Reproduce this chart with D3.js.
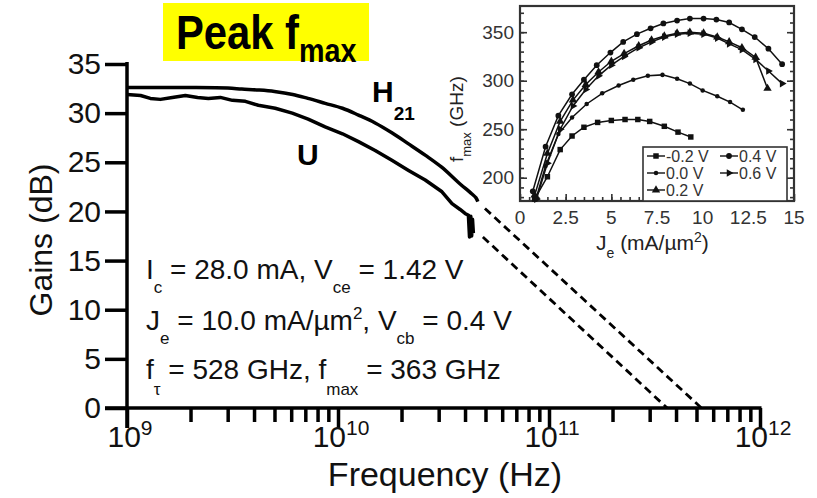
<!DOCTYPE html>
<html>
<head>
<meta charset="utf-8">
<script src="https://cdn.jsdelivr.net/npm/d3@7"></script>
<style>
  html, body { margin: 0; padding: 0; background: #fff; }
  svg { display: block; font-family: "Liberation Sans", Arial, Helvetica, sans-serif; }
</style>
</head>
<body>
<svg id="chart" width="817" height="498"></svg>
<script>
// ---- Main plot: gains vs frequency ----
const freqH21 = [1e9, 1.5e9, 2e9, 3e9, 3.5e9, 4.2e9, 5.0e9, 6.1e9, 7.2e9, 8.7e9, 1.05e10, 1.25e10,
                 1.5e10, 1.8e10, 2.15e10, 2.6e10, 3.1e10, 3.7e10, 4.3e10, 4.5e10, 4.6e10];
const gainH21 = [32.6, 32.6, 32.6, 32.55, 32.45, 32.35, 32.2, 31.9, 31.5, 31.0, 30.5, 29.8,
                 29.0, 28.0, 26.9, 25.7, 24.5, 23.0, 21.8, 21.4, 21.0];

const freqU = [1e9, 1.16e9, 1.29e9, 1.44e9, 1.64e9, 1.89e9, 2.16e9, 2.43e9, 2.77e9, 3.16e9, 3.64e9,
               4.19e9, 5.04e9, 6.07e9, 7.22e9, 8.69e9, 1.05e10, 1.25e10, 1.5e10, 1.8e10, 2.15e10,
               2.59e10, 3.11e10, 3.47e10, 3.79e10, 4.0e10, 4.15e10, 4.2e10, 4.26e10, 4.3e10, 4.34e10, 4.38e10];
const gainU = [31.9, 31.8, 31.5, 31.4, 31.6, 31.8, 31.6, 31.5, 31.6, 31.3, 31.2,
               30.8, 30.5, 30.0, 29.4, 28.6, 27.9, 27.1, 26.2, 25.2, 24.2,
               23.2, 22.0, 20.8, 20.2, 19.8, 19.6, 17.4, 19.5, 17.5, 19.2, 17.8];

// -20 dB/decade extrapolations down to f_T and f_max
const fT = 528e9;
const fMax = 363e9;
const h21Extrap = [[4.97e10, 20.3], [fT, 0]];
const uExtrap = [[4.86e10, 17.4], [fMax, 0]];

const gainTicks = [0, 5, 10, 15, 20, 25, 30, 35];
const freqDecades = [1e9, 1e10, 1e11, 1e12];
const freqExponents = ["9", "10", "11", "12"];

// ---- Inset: f_max vs emitter current density for several V_cb ----
const seriesNames = ["-0.2 V", "0.0 V", "0.2 V", "0.4 V", "0.6 V"];
const jeM02 = [0.8, 1.5, 2.2, 2.85, 3.5, 4.25, 5.0, 5.75, 6.45, 7.1, 7.9, 8.65, 9.35];
const fmaxM02 = [178, 201, 229, 243, 252, 257, 259, 260, 260, 258, 253, 247, 242];
const je00 = [0.9, 1.4, 2.1, 2.85, 3.65, 4.5, 5.4, 6.2, 7.0, 7.8, 8.6, 9.3, 10.0, 10.8, 11.5, 12.2];
const fmax00 = [180, 212, 245, 262, 276, 287, 295, 301, 305, 306, 302, 297, 290, 284, 278, 270];
const je02 = [0.8, 1.5, 2.2, 2.9, 3.6, 4.3, 5.0, 5.7, 6.5, 7.2, 7.9, 8.6, 9.3, 10.05, 10.8, 11.45, 12.15, 12.9, 13.55];
const fmax02 = [182, 225, 258, 280, 296, 309, 320, 328, 336, 342, 346, 349, 350, 349, 345, 340, 334, 324, 292];
const je04 = [0.7, 1.4, 2.1, 2.85, 3.5, 4.2, 4.95, 5.65, 6.4, 7.15, 7.85, 8.6, 9.3, 10.05, 10.75, 11.45, 12.15, 12.85, 13.6, 14.35];
const fmax04 = [186, 232, 264, 286, 301, 316, 329, 340, 348, 354, 359, 362, 364, 364, 363, 360, 353, 345, 333, 317];
const je06 = [0.9, 1.5, 2.2, 2.9, 3.6, 4.3, 5.0, 5.7, 6.5, 7.2, 7.9, 8.6, 9.3, 10.05, 10.8, 11.45, 12.15, 12.9, 13.6, 14.35];
const fmax06 = [178, 215, 250, 274, 291, 305, 316, 325, 334, 340, 345, 348, 349, 348, 344, 338, 332, 322, 310, 297];

const insetJeTicks = [0, 2.5, 5, 7.5, 10, 12.5, 15];
const insetJeLabels = ["0", "2.5", "5", "7.5", "10", "12.5", "15"];
const insetFmaxTicks = [200, 250, 300, 350];

const svg = d3.select("#chart");

// text with sub/superscript runs: parts = [[text, kind]] with kind "", "sub" or "sup"
function rich(parent, parts, o) {
  const t = parent.append("text")
    .attr("transform", o.transform)
    .attr("font-size", o.size)
    .attr("font-weight", o.weight || "normal")
    .attr("fill", o.fill || "#000")
    .attr("text-anchor", o.anchor || "start");
  let cur = 0;
  parts.forEach(([s, k]) => {
    const sh = k === "sub" ? o.subShift : k === "sup" ? -o.supShift : 0;
    t.append("tspan")
      .attr("dy", sh - cur)
      .attr("font-size", k ? o.subSize : o.size)
      .text(s);
    cur = sh;
  });
  return t;
}

// ---------- main scales ----------
const x = d3.scaleLog().domain([1e9, 1e12]).range([127, 760]);
const y = d3.scaleLinear().domain([0, 35]).range([408, 64]);

// title badge
svg.append("rect").attr("x", 163).attr("y", 3).attr("width", 206).attr("height", 58).attr("fill", "#ffff00");
rich(svg, [["Peak f", ""], ["max", "sub"]], {
  transform: "translate(176,49) scale(0.87,1)", size: 48, subSize: 33, subShift: 13, weight: "bold"
});

// y axis
const gy = svg.append("g").attr("transform", "translate(127,0)")
  .call(d3.axisLeft(y).tickValues(gainTicks).tickSize(22).tickPadding(4).tickFormat(d3.format("d")));
gy.select(".domain").remove();
gy.attr("font-family", null).attr("font-size", 30);
gy.selectAll(".tick line").attr("stroke", "#000").attr("stroke-width", 3.5);
gy.selectAll(".tick text").attr("fill", "#111");

// x axis: major and minor ticks
const minorFreqs = [];
[1e9, 1e10, 1e11].forEach(d => { for (let k = 2; k <= 9; k++) minorFreqs.push(d * k); });
const gxMinor = svg.append("g").attr("transform", "translate(0,408)")
  .call(d3.axisBottom(x).tickValues(minorFreqs).tickSize(14).tickFormat(""));
gxMinor.select(".domain").remove();
gxMinor.selectAll(".tick line").attr("stroke", "#000").attr("stroke-width", 3.5);
const gxMajor = svg.append("g").attr("transform", "translate(0,408)")
  .call(d3.axisBottom(x).tickValues(freqDecades).tickSize(20).tickFormat(""));
gxMajor.select(".domain").remove();
gxMajor.selectAll(".tick line").attr("stroke", "#000").attr("stroke-width", 3.5);
freqDecades.forEach((d, i) => {
  rich(svg, [["10", ""], [freqExponents[i], "sup"]], {
    transform: `translate(${x(d) + 3},447)`, size: 30, subSize: 21, supShift: 12, anchor: "middle", fill: "#111"
  });
});

// axis lines
svg.append("line").attr("x1", 127).attr("x2", 127).attr("y1", y(35) - 2).attr("y2", 428)
  .attr("stroke", "#000").attr("stroke-width", 3.5);
svg.append("line").attr("x1", 105).attr("x2", x(1e12) + 1.5).attr("y1", y(0)).attr("y2", y(0))
  .attr("stroke", "#000").attr("stroke-width", 3.5);

// axis titles
svg.append("text").attr("transform", "translate(52,240) rotate(-90)").attr("text-anchor", "middle")
  .attr("font-size", 32).attr("fill", "#111").text("Gains (dB)");
svg.append("text").attr("x", 445).attr("y", 486).attr("text-anchor", "middle")
  .attr("font-size", 34).attr("fill", "#111").text("Frequency (Hz)");

// curves
svg.append("path").datum(d3.zip(freqH21, gainH21))
  .attr("d", d3.line().x(d => x(d[0])).y(d => y(d[1])).curve(d3.curveCatmullRom))
  .attr("fill", "none").attr("stroke", "#000")
  .attr("stroke-width", 3.5).attr("stroke-linejoin", "round");
svg.append("path").datum(d3.zip(freqU, gainU))
  .attr("d", d3.line().x(d => x(d[0])).y(d => y(d[1]))).attr("fill", "none").attr("stroke", "#000")
  .attr("stroke-width", 3.5).attr("stroke-linejoin", "round");
[h21Extrap, uExtrap].forEach(seg => {
  svg.append("path").datum(seg).attr("d", d3.line().x(d => x(d[0])).y(d => y(d[1])))
    .attr("fill", "none").attr("stroke", "#000").attr("stroke-width", 2.8).attr("stroke-dasharray", "8,5");
});

// curve labels
rich(svg, [["H", ""], ["21", "sub"]], { transform: "translate(372,102)", size: 30, subSize: 19, subShift: 18, weight: "bold" });
svg.append("text").attr("x", 297).attr("y", 165).attr("font-size", 30).attr("font-weight", "bold").text("U");

// bias conditions
const annoOpt = { size: 28, subSize: 17, subShift: 14, supShift: 11, fill: "#111" };
rich(svg, [["I", ""], ["c", "sub"], [" = 28.0 mA, V", ""], ["ce", "sub"], [" = 1.42 V", ""]],
  Object.assign({ transform: "translate(146,279)" }, annoOpt));
rich(svg, [["J", ""], ["e", "sub"], [" = 10.0 mA/\u00b5m", ""], ["2", "sup"], [", V", ""], ["cb", "sub"], [" = 0.4 V", ""]],
  Object.assign({ transform: "translate(146,330)" }, annoOpt));
rich(svg, [["f", ""], ["\u03c4", "sub"], [` = ${fT / 1e9} GHz, f`, ""], ["max", "sub"], [` = ${fMax / 1e9} GHz`, ""]],
  Object.assign({ transform: "translate(146,379)" }, annoOpt, { subShift: 16 }));

// ---------- inset ----------
const xi = d3.scaleLinear().domain([0, 15]).range([520, 794]);
const yi = d3.scaleLinear().domain([176, 377]).range([201, 6]);
const inset = svg.append("g");
inset.append("rect").attr("x", 520).attr("y", 6).attr("width", 274).attr("height", 195)
  .attr("fill", "#fff").attr("stroke", "#333").attr("stroke-width", 2.2);

const minorJe = d3.range(0.5, 15, 0.5);
const minorF = d3.range(180, 377, 10);
function insetTicks(axis, tr, size) {
  const g = inset.append("g").attr("transform", tr).call(axis.tickSize(size).tickFormat(""));
  g.select(".domain").remove();
  g.selectAll(".tick line").attr("stroke", "#333").attr("stroke-width", 1.6);
}
insetTicks(d3.axisBottom(xi).tickValues(minorJe), "translate(0,201)", -4);
insetTicks(d3.axisBottom(xi).tickValues(insetJeTicks), "translate(0,201)", -7);
insetTicks(d3.axisLeft(yi).tickValues(minorF), "translate(520,0)", -4);
insetTicks(d3.axisLeft(yi).tickValues(insetFmaxTicks), "translate(520,0)", -7);
insetTicks(d3.axisRight(yi).tickValues(minorF), "translate(794,0)", -4);
insetTicks(d3.axisRight(yi).tickValues(insetFmaxTicks), "translate(794,0)", -7);

insetJeTicks.forEach((d, i) => {
  inset.append("text").attr("x", xi(d)).attr("y", 224).attr("text-anchor", "middle")
    .attr("font-size", 19).attr("fill", "#333").text(insetJeLabels[i]);
});
insetFmaxTicks.forEach(d => {
  inset.append("text").attr("x", 514).attr("y", yi(d)).attr("dy", "0.35em").attr("text-anchor", "end")
    .attr("font-size", 19).attr("fill", "#333").text(d);
});
rich(inset, [["J", ""], ["e", "sub"], [" (mA/\u00b5m", ""], ["2", "sup"], [")", ""]],
  { transform: "translate(596,250)", size: 21, subSize: 14, subShift: 8, supShift: 8, fill: "#222" });
rich(inset, [["f", ""], ["max", "sub"], [" (GHz)", ""]],
  { transform: "translate(463,162) rotate(-90)", size: 19, subSize: 13, subShift: 8, fill: "#222" });

const symbols = [d3.symbolSquare, d3.symbolCircle, d3.symbolTriangle, d3.symbolCircle, d3.symbolTriangle];
const symSizes = [30, 16, 30, 26, 26];
const symRot = [0, 0, 0, 0, 90];
const seriesJe = [jeM02, je00, je02, je04, je06];
const seriesF = [fmaxM02, fmax00, fmax02, fmax04, fmax06];
const iline = d3.line().x(d => xi(d[0])).y(d => yi(d[1]));
seriesJe.forEach((je, s) => {
  const pts = d3.zip(je, seriesF[s]);
  inset.append("path").datum(pts).attr("d", iline).attr("fill", "none")
    .attr("stroke", "#111").attr("stroke-width", 1.5);
  inset.selectAll(null).data(pts).join("path")
    .attr("transform", d => `translate(${xi(d[0])},${yi(d[1])}) rotate(${symRot[s]})`)
    .attr("d", d3.symbol(symbols[s], symSizes[s])).attr("fill", "#111");
});

// legend
const lg = inset.append("g");
lg.append("rect").attr("x", 643).attr("y", 147).attr("width", 144).attr("height", 54)
  .attr("fill", "#fff").attr("stroke", "#333").attr("stroke-width", 1.6);
const legendPos = [[647, 156], [647, 173], [647, 190], [720, 156], [720, 173]];
seriesNames.forEach((name, s) => {
  const [lx, ly] = legendPos[s];
  lg.append("line").attr("x1", lx).attr("x2", lx + 18).attr("y1", ly).attr("y2", ly)
    .attr("stroke", "#111").attr("stroke-width", 1.4);
  lg.append("path").attr("transform", `translate(${lx + 9},${ly}) rotate(${symRot[s]})`)
    .attr("d", d3.symbol(symbols[s], symSizes[s])).attr("fill", "#111");
  lg.append("text").attr("x", lx + 19).attr("y", ly).attr("dy", "0.36em")
    .attr("font-size", 16).attr("fill", "#333").text(name);
});
</script>
</body>
</html>
